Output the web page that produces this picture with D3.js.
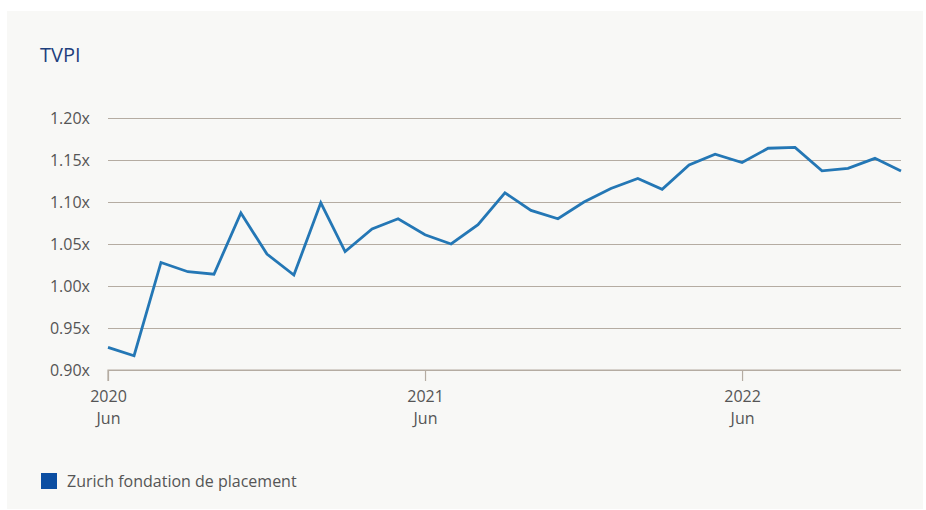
<!DOCTYPE html>
<html>
<head>
<meta charset="utf-8">
<script src="https://cdn.jsdelivr.net/npm/d3@7"></script>
<style>
  body { margin: 0; background: #fff; }
  svg { display: block; font-family: "Open Sans", "Noto Sans", sans-serif; }
</style>
</head>
<body>
<script>
// monthly TVPI, Jun 2020 - Dec 2022
const months = d3.timeMonths(new Date(2020, 5, 1), new Date(2023, 0, 1));
const tvpi = [0.927, 0.917, 1.028, 1.017, 1.014, 1.087, 1.038, 1.013, 1.099, 1.041,
              1.068, 1.080, 1.061, 1.050, 1.073, 1.111, 1.090, 1.080, 1.100, 1.116,
              1.128, 1.115, 1.144, 1.157, 1.147, 1.164, 1.165, 1.137, 1.140, 1.152, 1.137];
const yTicks = [0.90, 0.95, 1.00, 1.05, 1.10, 1.15, 1.20];
const xTicks = [new Date(2020, 5, 1), new Date(2021, 5, 1), new Date(2022, 5, 1)];
const seriesName = "Zurich fondation de placement";

const width = 926, height = 510;
const plotLeft = 108, plotRight = 901, plotTop = 118, plotBottom = 370;

const svg = d3.select("body").append("svg")
  .attr("width", width)
  .attr("height", height);

svg.append("rect")
  .attr("x", 7).attr("y", 11)
  .attr("width", 916).attr("height", 498)
  .attr("fill", "#f8f8f6");

svg.append("text")
  .attr("x", 40).attr("y", 62)
  .attr("font-size", 20)
  .attr("fill", "#1e3f7d")
  .text("TVPI");

const x = d3.scaleTime()
  .domain([months[0], months[months.length - 1]])
  .range([plotLeft, plotRight]);

const y = d3.scaleLinear()
  .domain([0.90, 1.20])
  .range([plotBottom, plotTop]);

// grid + y labels
const yAxis = svg.append("g")
  .attr("transform", `translate(${plotLeft},0)`)
  .call(d3.axisLeft(y).tickValues(yTicks).tickSize(-(plotRight - plotLeft)).tickPadding(18)
    .tickFormat(d => d3.format(".2f")(d) + "x"));
yAxis.attr("font-family", null).attr("font-size", 16);
yAxis.select(".domain").remove();
yAxis.selectAll(".tick line").attr("stroke", "#b5aca2").attr("stroke-width", 1.2);
yAxis.selectAll(".tick text").attr("fill", "#555");

// x axis
const xAxis = svg.append("g")
  .attr("transform", `translate(0,${plotBottom})`)
  .call(d3.axisBottom(x).tickValues(xTicks).tickSize(11).tickFormat(""));
xAxis.attr("font-family", null).attr("font-size", 16);
xAxis.select(".domain").attr("stroke", "#b5aca2").attr("stroke-width", 1.2)
  .attr("d", `M${plotLeft},11V0H${plotRight}`);
xAxis.selectAll(".tick line").attr("stroke", "#b5aca2").attr("stroke-width", 1.2);
xAxis.selectAll(".tick").each(function(d) {
  const t = d3.select(this).append("text")
    .attr("text-anchor", "middle")
    .attr("fill", "#555");
  t.append("tspan").attr("x", 0).attr("y", 32).text(d3.timeFormat("%Y")(d));
  t.append("tspan").attr("x", 0).attr("y", 54).text(d3.timeFormat("%b")(d));
});

const line = d3.line()
  .x((d, i) => x(months[i]))
  .y(d => y(d));

svg.append("path")
  .datum(tvpi)
  .attr("fill", "none")
  .attr("stroke", "#2477b5")
  .attr("stroke-width", 2.8)
  .attr("stroke-linejoin", "miter")
  .attr("d", line);

// legend
svg.append("rect")
  .attr("x", 41).attr("y", 473)
  .attr("width", 16).attr("height", 16)
  .attr("fill", "#0b4ea2");
svg.append("text")
  .attr("x", 67).attr("y", 487)
  .attr("font-size", 16).attr("fill", "#555")
  .text(seriesName);
</script>
</body>
</html>
